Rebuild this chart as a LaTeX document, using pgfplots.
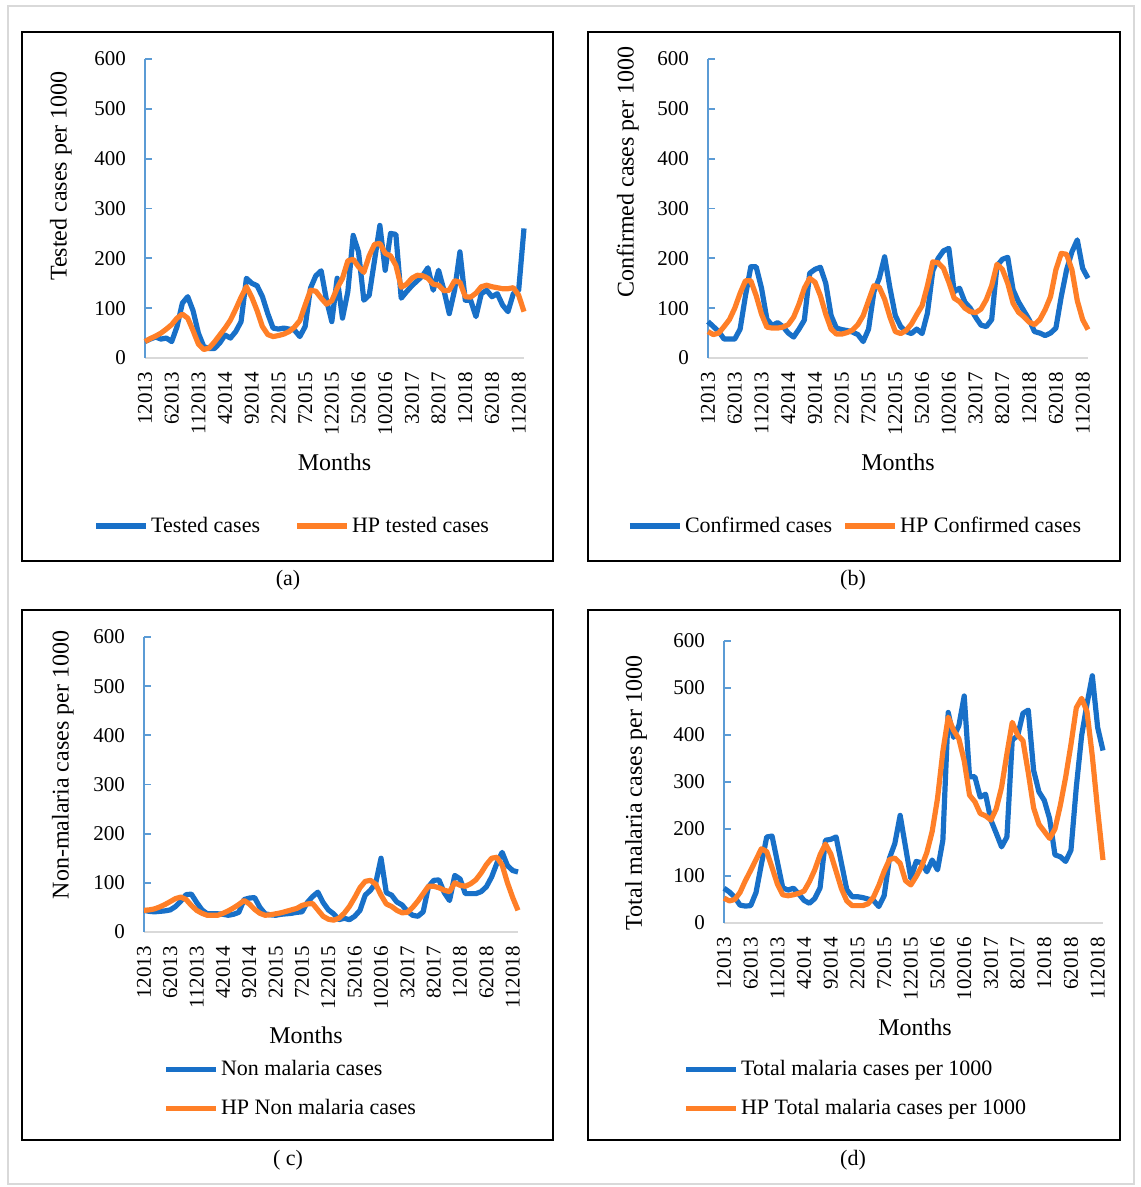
\documentclass[border=0pt]{standalone}
\usepackage{pgfplots}
\pgfplotsset{compat=1.18}
\usepackage{pgfplotstable}
\usepackage{fontspec}
\setmainfont{Liberation Serif}
\definecolor{sblue}{RGB}{24,112,200}
\definecolor{sorange}{RGB}{255,127,39}
\definecolor{yaxisblue}{RGB}{91,155,213}
\definecolor{xaxisgray}{RGB}{217,217,217}

\pgfplotstableread{
i b o
0 33 33
1 38 39
2 42 44
3 38 50
4 40 58
5 33 67
6 63 80
7 110 88
8 123 80
9 95 55
10 50 28
11 23 17
12 19 20
13 19 32
14 30 46
15 46 60
16 40 76
17 53 98
18 73 122
19 160 143
20 150 122
21 145 95
22 123 63
23 89 47
24 60 43
25 58 45
26 60 48
27 58 53
28 56 62
29 43 75
30 63 106
31 140 136
32 165 134
33 175 120
34 116 108
35 73 115
36 160 140
37 80 160
38 133 195
39 246 198
40 213 183
41 116 172
42 126 205
43 196 228
44 266 230
45 176 210
46 250 205
47 248 186
48 120 142
49 133 148
50 145 160
51 155 166
52 165 165
53 181 160
54 136 148
55 176 146
56 136 135
57 89 136
58 136 155
59 213 152
60 116 123
61 116 122
62 83 130
63 129 143
64 136 146
65 123 143
66 129 141
67 106 139
68 93 139
69 129 141
70 136 126
71 260 93
}\dataA

\pgfplotstableread{
i b o
0 73 53
1 63 47
2 53 50
3 38 63
4 38 77
5 38 100
6 58 130
7 125 155
8 183 155
9 183 125
10 140 88
11 78 62
12 65 60
13 71 60
14 63 62
15 50 67
16 42 82
17 58 108
18 76 140
19 170 160
20 178 152
21 182 125
22 150 88
23 85 58
24 60 48
25 57 48
26 55 51
27 52 56
28 47 67
29 33 85
30 58 115
31 133 145
32 160 142
33 203 118
34 140 82
35 85 53
36 63 49
37 53 55
38 49 68
39 58 87
40 49 105
41 90 145
42 175 193
43 200 191
44 215 180
45 220 152
46 133 120
47 140 113
48 112 100
49 100 93
50 82 91
51 66 98
52 63 117
53 77 145
54 185 188
55 198 178
56 202 150
57 137 110
58 113 92
59 95 83
60 77 72
61 53 67
62 50 77
63 45 97
64 50 123
65 60 177
66 123 210
67 177 208
68 213 177
69 237 115
70 180 77
71 160 57
}\dataB

\pgfplotstableread{
i b o
0 44 44
1 42 45
2 41 47
3 42 51
4 43 56
5 45 62
6 52 68
7 63 71
8 76 66
9 77 54
10 60 44
11 45 38
12 37 34
13 37 34
14 37 34
15 36 38
16 34 43
17 36 49
18 40 56
19 66 64
20 69 57
21 70 46
22 50 38
23 37 34
24 35 35
25 34 37
26 36 39
27 37 42
28 38 45
29 40 48
30 41 54
31 60 57
32 72 58
33 81 45
34 60 32
35 45 26
36 37 24
37 25 28
38 28 38
39 25 52
40 32 70
41 44 90
42 75 103
43 85 105
44 100 97
45 150 75
46 80 57
47 75 52
48 61 44
49 55 39
50 42 40
51 34 50
52 32 63
53 41 78
54 92 93
55 105 93
56 106 90
57 80 85
58 64 82
59 115 100
60 108 95
61 78 93
62 78 98
63 78 106
64 82 120
65 92 137
66 112 150
67 140 152
68 162 136
69 135 100
70 125 70
71 122 44
}\dataC

\pgfplotstableread{
i b o
0 74 53
1 66 47
2 55 50
3 38 65
4 36 90
5 37 112
6 65 135
7 125 158
8 183 152
9 185 118
10 130 83
11 75 60
12 70 58
13 74 60
14 62 63
15 48 68
16 42 88
17 52 113
18 75 145
19 176 168
20 178 147
21 183 110
22 127 73
23 71 47
24 56 37
25 56 37
26 54 37
27 51 41
28 48 55
29 35 80
30 58 110
31 138 135
32 169 138
33 229 127
34 162 90
35 95 81
36 131 99
37 128 120
38 109 150
39 134 195
40 113 265
41 176 365
42 448 438
43 395 410
44 420 392
45 483 345
46 311 272
47 311 258
48 268 233
49 274 228
50 219 219
51 191 243
52 162 289
53 183 360
54 390 427
55 398 400
56 446 388
57 453 320
58 325 245
59 279 210
60 261 195
61 222 180
62 145 200
63 141 250
64 131 310
65 155 380
66 289 458
67 399 478
68 466 450
69 526 355
70 416 240
71 367 134
}\dataD

\pgfplotsset{
  panel/.style={
    scale only axis, clip=false,
    xmin=0, xmax=71, ymin=0, ymax=600,
    ytick={0,100,200,300,400,500,600},
    xtick={0,5,...,70},
    xticklabels={12013,62013,112013,42014,92014,22015,72015,122015,52016,102016,32017,82017,12018,62018,112018},
    axis lines=left,
    axis line style={-},
    x axis line style={draw=xaxisgray, line width=0.9pt},
    y axis line style={draw=yaxisblue, line width=0.9pt},
    xtick style={draw=none},
    ytick style={draw=yaxisblue, line width=0.9pt},
    tick align=inside, major tick length=3.5pt,
    /pgf/number format/assume math mode=true,
    tick label style={font=\fontsize{10.5}{12}\selectfont, text=black},
    xticklabel style={yshift=-3.5pt, rotate=90, anchor=east},
    yticklabel style={xshift=-6pt},
    label style={font=\fontsize{12}{14}\selectfont, text=black},
    xlabel={Months},
    legend style={draw=none, fill=none, font=\fontsize{11}{13}\selectfont, inner sep=0pt, nodes={inner sep=1.2pt, text=black}},
    legend cell align=left,
    legend image code/.code={\draw[##1] (0pt,0pt) -- (25pt,0pt);},
  },
  dat/.style={line width=2.6pt, line join=round},
}

\begin{document}
\begin{tikzpicture}[x=0.5pt,y=0.5pt]
\path (0,0) rectangle (1140,1187);
\draw[black!15, line width=1pt] (8,3) rectangle (1134,1181);
\draw[black, line width=1.1pt] (22,626) rectangle (553,1155);
\draw[black, line width=1.1pt] (588,626) rectangle (1120,1155);
\draw[black, line width=1.1pt] (22,47) rectangle (553,577);
\draw[black, line width=1.1pt] (588,47) rectangle (1120,577);
\node[font=\fontsize{11}{13}\selectfont] at (288,607) {(a)};
\node[font=\fontsize{11}{13}\selectfont] at (853,607) {(b)};
\node[font=\fontsize{11}{13}\selectfont] at (288,27) {( c)};
\node[font=\fontsize{11}{13}\selectfont] at (853,27) {(d)};

% (a)
\begin{axis}[panel, at={(72.5pt,414.5pt)}, anchor=south west, width=189.5pt, height=149.5pt,
  ylabel={Tested cases per 1000},
  ylabel style={at={(axis description cs:-0.222,0.609)}, anchor=center},
  xlabel style={at={(axis description cs:0.5,-0.348)}, anchor=center},
  legend columns=2,
  legend style={at={(axis description cs:0.389,-0.562)}, anchor=center,
    /tikz/every even column/.append style={column sep=16pt}}]
\addplot[sblue, dat] table[x=i,y=b]{\dataA};
\addlegendentry{Tested cases}
\addplot[sorange, dat] table[x=i,y=o]{\dataA};
\addlegendentry{HP tested cases}
\end{axis}

% (b)
\begin{axis}[panel, at={(354pt,414.5pt)}, anchor=south west, width=190pt, height=149.5pt,
  ylabel={Confirmed cases per 1000},
  ylabel style={at={(axis description cs:-0.211,0.622)}, anchor=center},
  xlabel style={at={(axis description cs:0.5,-0.348)}, anchor=center},
  legend columns=2,
  legend style={at={(axis description cs:0.388,-0.562)}, anchor=center,
    /tikz/every even column/.append style={column sep=4pt}}]
\addplot[sblue, dat] table[x=i,y=b]{\dataB};
\addlegendentry{Confirmed cases}
\addplot[sorange, dat] table[x=i,y=o]{\dataB};
\addlegendentry{HP Confirmed cases}
\end{axis}

% (c)
\begin{axis}[panel, at={(72pt,127.5pt)}, anchor=south west, width=187pt, height=147.5pt,
  ylabel={Non-malaria cases per 1000},
  ylabel style={at={(axis description cs:-0.217,0.566)}, anchor=center},
  xlabel style={at={(axis description cs:0.433,-0.349)}, anchor=center},
  legend columns=1,
  legend style={at={(axis description cs:0.051,-0.532)}, anchor=west, row sep=8pt}]
\addplot[sblue, dat] table[x=i,y=b]{\dataC};
\addlegendentry{Non malaria cases}
\addplot[sorange, dat] table[x=i,y=o]{\dataC};
\addlegendentry{HP Non malaria cases}
\end{axis}

% (d)
\begin{axis}[panel, at={(362pt,132pt)}, anchor=south west, width=189.5pt, height=141pt,
  ylabel={Total malaria cases per 1000},
  ylabel style={at={(axis description cs:-0.232,0.461)}, anchor=center},
  xlabel style={at={(axis description cs:0.504,-0.369)}, anchor=center},
  legend columns=1,
  legend style={at={(axis description cs:-0.108,-0.589)}, anchor=west, row sep=8pt}]
\addplot[sblue, dat] table[x=i,y=b]{\dataD};
\addlegendentry{Total malaria cases per 1000}
\addplot[sorange, dat] table[x=i,y=o]{\dataD};
\addlegendentry{HP Total malaria cases per 1000}
\end{axis}
\end{tikzpicture}
\end{document}
